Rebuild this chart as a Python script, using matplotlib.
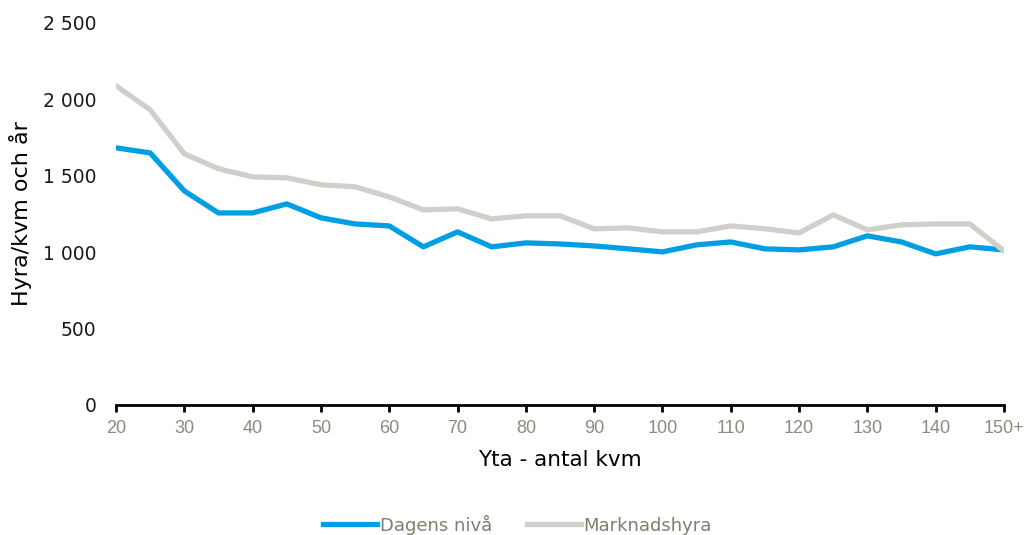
import matplotlib
matplotlib.use("Agg")
import matplotlib.pyplot as plt
from matplotlib.ticker import FuncFormatter

sizes = list(range(20, 155, 5))
dagens = [1683, 1650, 1401, 1257, 1257, 1316, 1225, 1185, 1172, 1035, 1133, 1035, 1061, 1054,
          1041, 1022, 1002, 1048, 1067, 1022, 1015, 1035, 1107, 1067, 989, 1035, 1015]
marknad = [2089, 1932, 1644, 1546, 1493, 1487, 1441, 1428, 1362, 1277, 1284, 1218, 1238, 1238,
           1153, 1159, 1133, 1133, 1172, 1153, 1126, 1244, 1146, 1179, 1185, 1185, 1008]
xtick_vals = list(range(20, 151, 10))
xtick_labels = [str(v) for v in xtick_vals[:-1]] + ["150+"]
yticks = [0, 500, 1000, 1500, 2000, 2500]

fig = plt.figure(figsize=(10.25, 5.35), dpi=100)
ax = fig.add_axes([116/1025, 1 - 405/535, (1004-116)/1025, (405-23)/535])

ax.plot(sizes, dagens, color="#009fe3", lw=3.8, label="Dagens nivå")
ax.plot(sizes, marknad, color="#d0cfc9", lw=3.8, label="Marknadshyra")

ax.set_xlim(20, 150)
ax.set_ylim(0, 2500)
ax.set_xticks(xtick_vals)
ax.set_xticklabels(xtick_labels, fontsize=13, color="#8c8c7c", fontfamily="Liberation Sans")
ax.set_yticks(yticks)
ax.yaxis.set_major_formatter(FuncFormatter(lambda v, p: f"{int(v):,}".replace(",", " ")))
for lab in ax.get_yticklabels():
    lab.set_fontsize(13.5)
    lab.set_color("#1a1a1a")

for s in ["top", "right", "left"]:
    ax.spines[s].set_visible(False)
ax.spines["bottom"].set_linewidth(2)
ax.spines["bottom"].set_color("black")
ax.tick_params(axis="y", length=0, pad=14)
ax.tick_params(axis="x", length=5, width=2, color="black", pad=6)

ax.set_ylabel("Hyra/kvm och år", fontsize=16, color="black", labelpad=8)
ax.set_xlabel("Yta - antal kvm", fontsize=15.5, color="black", labelpad=9)

leg = fig.legend(loc="lower center", bbox_to_anchor=(0.505, -0.03), ncol=2, frameon=False,
                 fontsize=13, handlelength=3.0, handletextpad=0.15, columnspacing=1.9)
for t in leg.get_texts():
    t.set_color("#7f7f70")

fig.savefig("out.png", dpi=100)
